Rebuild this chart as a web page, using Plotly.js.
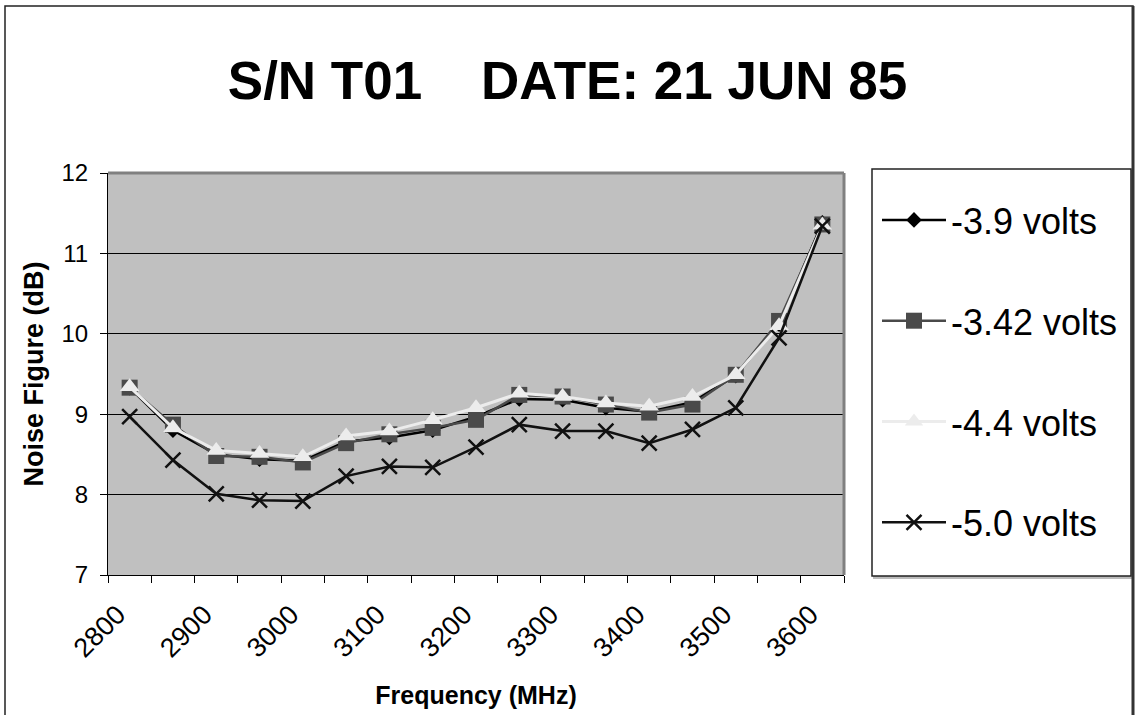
<!DOCTYPE html>
<html>
<head>
<meta charset="utf-8">
<script src="https://cdn.plot.ly/plotly-3.0.1.min.js"></script>
<style>html,body{margin:0;padding:0;background:#fff;}#chart{width:1135px;height:715px;}</style>
</head>
<body>
<div id="chart"></div>
<script>
// Frequencies (MHz)
var freq = [2800, 2850, 2900, 2950, 3000, 3050, 3100, 3150, 3200, 3250, 3300, 3350, 3400, 3450, 3500, 3550, 3600];
// Noise figure (dB) per bias voltage
var nf_3_9  = [9.33, 8.80, 8.50, 8.44, 8.42, 8.66, 8.71, 8.80, 8.97, 9.19, 9.18, 9.08, 9.03, 9.15, 9.48, 10.12, 11.38];
var nf_3_42 = [9.33, 8.87, 8.48, 8.47, 8.40, 8.64, 8.75, 8.83, 8.93, 9.24, 9.22, 9.12, 9.02, 9.12, 9.49, 10.16, 11.36];
var nf_4_4  = [9.34, 8.83, 8.55, 8.51, 8.47, 8.73, 8.79, 8.93, 9.08, 9.26, 9.22, 9.14, 9.10, 9.22, 9.49, 10.10, 11.35];
var nf_5_0  = [8.97, 8.43, 8.01, 7.93, 7.92, 8.23, 8.35, 8.34, 8.59, 8.87, 8.79, 8.79, 8.64, 8.81, 9.08, 9.95, 11.34];
var seriesNames = ["-3.9 volts", "-3.42 volts", "-4.4 volts", "-5.0 volts"];
var xTickVals = [2800, 2900, 3000, 3100, 3200, 3300, 3400, 3500, 3600];
var xTickText = ["2800", "2900", "3000", "3100", "3200", "3300", "3400", "3500", "3600"];
var yTickVals = [7, 8, 9, 10, 11, 12];

var FONT = "Liberation Sans, Arial, Helvetica, sans-serif";

var traces = [
  {x: freq, y: nf_3_9, name: seriesNames[0], legendgroup: "a", mode: "lines+markers",
   line: {color: "#000000", width: 2.5},
   marker: {symbol: "diamond", size: 12, color: "#000000", line: {width: 0}}},
  {x: freq, y: nf_3_42, name: seriesNames[1], legendgroup: "b", mode: "lines+markers",
   line: {color: "#4a4a4a", width: 2.5},
   marker: {symbol: "square", size: 16, color: "#4a4a4a", line: {width: 0}}},
  {x: freq, y: nf_4_4, name: seriesNames[2], legendgroup: "c", mode: "lines+markers",
   line: {color: "#ececec", width: 3},
   marker: {symbol: "triangle-up", size: 17, color: "#ececec", line: {width: 0}}},
  {x: freq, y: nf_5_0, name: seriesNames[3], legendgroup: "d", mode: "lines+markers",
   line: {color: "#111111", width: 2.5},
   marker: {symbol: "x-thin", size: 15, color: "#111111", line: {width: 2.5, color: "#111111"}}}
];

var L = 108, R = 844, T = 173, B = 575;
function px2x(p) { return (p - L) / (R - L); }
function py2y(p) { return (B - p) / (B - T); }

var layout = {
  width: 1135, height: 715,
  margin: {l: L, r: 1135 - R, t: T, b: 715 - B, pad: 0},
  paper_bgcolor: "#ffffff",
  plot_bgcolor: "#c0c0c0",
  font: {family: FONT, color: "#000000"},
  showlegend: true,
  title: {text: "<b>S/N T01\u00a0\u00a0\u00a0\u00a0DATE: 21 JUN 85</b>", font: {size: 53, family: FONT, color: "#000"},
          x: 0.5, xref: "container", y: 1 - 80 / 715, yref: "container", yanchor: "middle", xanchor: "center"},
  xaxis: {
    range: [2775, 3625], tickmode: "array", tickvals: xTickVals, ticktext: xTickText,
    ticks: "", showgrid: false, zeroline: false,
    showline: true, linecolor: "#000", linewidth: 1,
    tickangle: -45, tickfont: {size: 27, family: FONT, color: "#000"},
    ticklabelstandoff: 12, ticklabelshift: -12,
    minor: {tick0: 2775, dtick: 50, ticks: "outside", ticklen: 7, tickcolor: "#000", tickwidth: 1, showgrid: false},
    title: {text: "<b>Frequency (MHz)</b>", font: {size: 25, family: FONT, color: "#000"}, standoff: 24}
  },
  yaxis: {
    range: [7, 12], tickmode: "array", tickvals: yTickVals,
    ticks: "outside", ticklen: 7, tickcolor: "#000", tickwidth: 1,
    showgrid: true, gridcolor: "#000", gridwidth: 1, zeroline: false,
    showline: true, linecolor: "#000", linewidth: 1,
    tickfont: {size: 24, family: FONT, color: "#000"},
    ticklabelstandoff: 7,
    title: {text: "<b>Noise Figure (dB)</b>", font: {size: 27, family: FONT, color: "#000"}, standoff: 10}
  },
  legend: {
    x: px2x(877), xanchor: "left", y: py2y(190), yanchor: "top",
    bgcolor: "rgba(0,0,0,0)", borderwidth: 0,
    font: {size: 36, family: FONT, color: "#000"},
    traceorder: "grouped", tracegroupgap: 51, itemwidth: 64
  },
  shapes: [
    // outer chart border
    {type: "rect", xref: "paper", yref: "paper", x0: px2x(5), x1: px2x(1133), y0: py2y(740), y1: py2y(6),
     line: {color: "#222", width: 1.5}, fillcolor: "rgba(0,0,0,0)", layer: "below"},
    {type: "line", xref: "paper", yref: "paper", x0: px2x(1133), x1: px2x(1133), y0: py2y(740), y1: py2y(6),
     line: {color: "#333", width: 3}},
    // legend box shadow and box
    {type: "rect", xref: "paper", yref: "paper", x0: px2x(874), x1: px2x(1133), y0: py2y(578), y1: py2y(171),
     line: {color: "#bbbbbb", width: 2}, fillcolor: "#bbbbbb", layer: "below"},
    {type: "rect", xref: "paper", yref: "paper", x0: px2x(872), x1: px2x(1131), y0: py2y(576), y1: py2y(169),
     line: {color: "#222", width: 1.5}, fillcolor: "#ffffff", layer: "below"},
    // plot area gray frame (top and right)
    {type: "line", xref: "paper", yref: "paper", x0: 0, x1: 1, y0: 1, y1: 1, line: {color: "#808080", width: 3}},
    {type: "line", xref: "paper", yref: "paper", x0: 1, x1: 1, y0: 0, y1: 1, line: {color: "#808080", width: 3}}
  ]
};

Plotly.newPlot("chart", traces, layout, {displayModeBar: false, staticPlot: true});
</script>
</body>
</html>
